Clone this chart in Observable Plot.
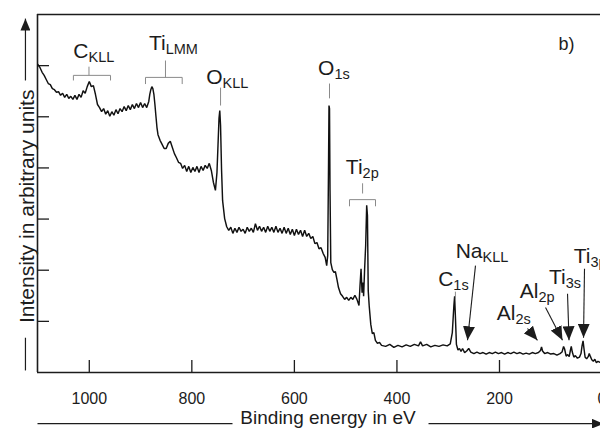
<!DOCTYPE html>
<html><head><meta charset="utf-8">
<script src="https://cdn.jsdelivr.net/npm/d3@7"></script>
<script src="https://cdn.jsdelivr.net/npm/@observablehq/plot@0.6"></script>
<style>html,body{margin:0;padding:0;background:#fff;overflow:hidden}#chart svg{display:block}</style>
</head><body><div id="chart"></div>
<script>
// Binding energy (eV) and intensity (arbitrary units)
const energy = [
1100,1096,1092,1088,1084,1080,1076,1072,1068,1064,1060,1056,1052,1048,1044,1040,1036,1032,1028,1024,
1020,1016,1012,1008,1004,1000,996,992,988,984,980,976,972,968,964,960,956,952,948,944,
940,936,932,928,924,920,916,912,908,904,900,896,892,888,884,882,880,878,876,874,
872,870,868,866,862,858,854,850,846,842,838,834,830,826,822,818,814,810,806,802,
798,794,790,786,782,778,774,770,766,762,758,754,751,749,747,745.5,744,742,740,736,
732,728,724,720,716,712,708,704,700,696,692,688,684,680,676,672,668,664,660,656,
652,648,644,640,636,632,628,624,620,616,612,608,604,600,596,592,588,584,580,576,
572,568,564,560,556,552,548,544,540,537,535,533.5,532.5,531.5,530.5,529,526,523,520,517,
514,510,506,502,498,494,490,486,482,478,474,472,470,468,466,465,463,461,459,457.5,
456,454,451,448,445,442,438,434,430,422,414,406,398,390,382,374,366,358,354,350,
342,334,326,318,310,302,296,292,289,287.5,286,284,281,278,275,272,268,264,260,256,
250,244,238,232,226,220,214,208,202,196,190,184,178,172,166,160,154,148,142,136,
130,124,120,118,116,112,106,100,94,88,82,78,75,73,70,67,64,62,60,58,
55,52,48,44,41,39,37,35,33,30,27,25,23,20,17,14,11,8,5,3
];
const intensity = [
6.02,5.96,5.87,5.81,5.73,5.65,5.63,5.55,5.53,5.48,5.49,5.42,5.46,5.38,5.44,5.36,5.40,5.34,5.42,5.34,
5.44,5.38,5.51,5.46,5.59,5.69,5.59,5.61,5.44,5.24,5.18,5.10,5.16,5.05,5.12,5.01,5.10,5.03,5.14,5.06,
5.16,5.10,5.20,5.12,5.22,5.14,5.24,5.16,5.26,5.18,5.28,5.18,5.26,5.18,5.30,5.44,5.53,5.59,5.55,5.44,
5.24,5.01,4.79,4.65,4.54,4.46,4.38,4.38,4.48,4.52,4.40,4.28,4.20,4.11,4.09,3.99,4.05,3.93,4.03,3.91,
4.01,3.93,4.03,3.91,4.03,3.95,4.05,3.99,4.09,3.95,3.72,3.56,3.91,4.44,4.97,5.12,4.83,3.95,3.36,3.01,
2.85,2.78,2.84,2.72,2.82,2.74,2.84,2.76,2.80,2.72,2.84,2.76,2.82,2.74,2.91,2.78,2.86,2.76,2.84,2.74,
2.86,2.76,2.84,2.74,2.86,2.74,2.82,2.72,2.84,2.72,2.82,2.70,2.80,2.68,2.80,2.70,2.78,2.66,2.78,2.66,
2.72,2.62,2.66,2.52,2.54,2.42,2.44,2.33,2.25,2.09,2.29,3.95,5.22,5.16,3.56,2.15,2.01,1.96,1.97,1.82,
1.66,1.54,1.49,1.43,1.47,1.41,1.47,1.43,1.51,1.43,1.31,1.70,2.03,1.56,1.76,1.49,2.03,2.48,3.27,3.07,
1.60,1.29,0.94,0.76,0.78,0.63,0.57,0.59,0.53,0.51,0.55,0.49,0.53,0.50,0.54,0.51,0.55,0.52,0.60,0.52,
0.55,0.50,0.53,0.51,0.54,0.52,0.56,0.78,1.30,1.49,1.10,0.55,0.44,0.47,0.41,0.47,0.39,0.42,0.47,0.40,
0.37,0.40,0.37,0.39,0.36,0.39,0.37,0.40,0.37,0.39,0.36,0.39,0.37,0.40,0.37,0.39,0.36,0.38,0.36,0.39,
0.37,0.39,0.43,0.50,0.42,0.37,0.39,0.36,0.37,0.34,0.37,0.40,0.51,0.46,0.32,0.35,0.31,0.42,0.51,0.40,
0.30,0.33,0.28,0.30,0.37,0.52,0.62,0.45,0.30,0.27,0.31,0.37,0.32,0.25,0.22,0.26,0.19,0.22,0.20,0.21
];

// Axes
const xTicks = [1000, 800, 600, 400, 200];
const xTickLabels = [1000, 800, 600, 400, 200, 0];
const yTicks = [1, 2, 3, 4, 5, 6];
const xTitle = "Binding energy in eV";
const yTitle = "Intensity in arbitrary units";

// Peak annotations: element, subscript, anchor energy, anchor intensity
const peakMain = ["C", "Ti", "O", "O", "Ti", "C", "Na", "Al", "Al", "Ti", "Ti"];
const peakSub  = ["KLL", "LMM", "KLL", "1s", "2p", "1s", "KLL", "2s", "2p", "3s", "3p"];
const peakE    = [1001.5, 851, 740, 522, 467, 290, 233, 169, 124, 71, 22.5];
const peakI    = [6.14, 6.30, 5.65, 5.81, 3.89, 1.70, 2.23, 1.02, 1.45, 1.74, 2.15];

// Bracket / marker segments (grey)
const brE1 = [1031, 1031, 958.6, 1000.6, 890.4, 890.4, 818.8, 851.4, 744, 531.5, 467, 492.5, 492.5, 441.8, 286];
const brI1 = [5.71, 5.81, 5.81, 5.81, 5.64, 5.77, 5.77, 5.77, 5.57, 5.65, 3.70, 3.25, 3.38, 3.38, 1.58];
const brE2 = [1031, 958.6, 958.6, 1000.6, 890.4, 818.8, 818.8, 851.4, 744, 531.5, 467, 492.5, 441.8, 441.8, 286];
const brI2 = [5.81, 5.81, 5.71, 5.98, 5.77, 5.77, 5.64, 6.10, 5.22, 5.36, 3.50, 3.38, 3.38, 3.25, 1.43];

// Pointer arrows (Na KLL, Al 2s, Al 2p, Ti 3s, Ti 3p)
const arE1 = [246.8, 145.4, 110.2, 67.3, 34.2];
const arI1 = [2.09, 0.86, 1.27, 1.54, 2.03];
const arE2 = [262.4, 125.9, 77.1, 64.4, 36.1];
const arI2 = [0.63, 0.63, 0.63, 0.63, 0.68];

const panelLabel = [{t: "b)", e: 85, v: 6.31}];

const spectrum = energy.map((e, i) => ({e, v: intensity[i]}));
const peaks = peakMain.map((m, i) => ({m, s: peakSub[i], e: peakE[i], v: peakI[i]}));
const brackets = brE1.map((e, i) => ({x1: e, y1: brI1[i], x2: brE2[i], y2: brI2[i]}));
const pointers = arE1.map((e, i) => ({x1: e, y1: arI1[i], x2: arE2[i], y2: arI2[i]}));
const titleLines = [{x1: 1124.5, y1: 0.04, x2: 1124.5, y2: 0.68}, {x1: 1101, y1: -1.0, x2: 720.7, y2: -1.0}];
const titleArrows = [{x1: 1124.5, y1: 5.71, x2: 1124.5, y2: 6.92}, {x1: 338.4, y1: -1.0, x2: -3, y2: -1.0}];

const ink = "#1c1c1c";
const font = "'Liberation Sans', Arial, Helvetica, sans-serif";

function filledHead(len, wid) {
  return (color, context) => {
    const doc = (context && context.document) || document;
    const ns = "http://www.w3.org/2000/svg";
    const m = doc.createElementNS(ns, "marker");
    m.setAttribute("viewBox", `${-len} ${-wid / 2} ${len} ${wid}`);
    m.setAttribute("markerWidth", len);
    m.setAttribute("markerHeight", wid);
    m.setAttribute("markerUnits", "userSpaceOnUse");
    m.setAttribute("orient", "auto");
    m.setAttribute("refX", 0);
    m.setAttribute("refY", 0);
    const p = doc.createElementNS(ns, "path");
    p.setAttribute("d", `M0,0L${-len},${-wid / 2}L${-len},${wid / 2}Z`);
    p.setAttribute("fill", ink);
    p.setAttribute("stroke", "none");
    m.appendChild(p);
    return m;
  };
}

const plot = Plot.plot({
  width: 600,
  height: 428,
  marginLeft: 37,
  marginRight: 0,
  marginTop: 14,
  marginBottom: 56,
  x: {domain: [1101, 3], axis: null},
  y: {domain: [0, 7], axis: null},
  style: {fontFamily: font, color: ink, background: "#fff"},
  marks: [
    Plot.ruleY([0, 7], {stroke: ink, strokeWidth: 1.6}),
    Plot.ruleX([1101], {stroke: ink, strokeWidth: 1.6}),
    Plot.ruleX(xTicks, {y1: 0, y2: 0.235, stroke: ink, strokeWidth: 1.3}),
    Plot.ruleY(yTicks, {x1: 1101, x2: 1077.6, stroke: ink, strokeWidth: 1.3}),
    Plot.text(xTickLabels, {x: d => d, text: d => String(d), frameAnchor: "bottom", lineAnchor: "bottom", dy: 31, fontSize: 16, fill: ink}),
    Plot.line(spectrum, {x: "e", y: "v", stroke: "#111", strokeWidth: 1.45, strokeLinejoin: "miter"}),
    Plot.link(brackets, {x1: "x1", y1: "y1", x2: "x2", y2: "y2", stroke: "#8a8a8a", strokeWidth: 1}),
    Plot.link(pointers, {x1: "x1", y1: "y1", x2: "x2", y2: "y2", stroke: ink, strokeWidth: 1.1, markerEnd: filledHead(14, 12)}),
    Plot.text(peaks, {x: "e", y: "v", text: "m", textAnchor: "end", lineAnchor: "bottom", fontSize: 21, fill: ink}),
    Plot.text(peaks, {x: "e", y: "v", text: "s", textAnchor: "start", lineAnchor: "bottom", dy: 4, fontSize: 14.5, fill: ink}),
    Plot.text(panelLabel, {x: "e", y: "v", text: "t", textAnchor: "start", lineAnchor: "bottom", fontSize: 18, fill: ink}),
    Plot.link(titleLines, {x1: "x1", y1: "y1", x2: "x2", y2: "y2", stroke: ink, strokeWidth: 1.2}),
    Plot.link(titleArrows, {x1: "x1", y1: "y1", x2: "x2", y2: "y2", stroke: ink, strokeWidth: 1.2, markerEnd: filledHead(12, 10)}),
    Plot.text([xTitle], {x: 534.4, y: -0.88, text: d => d, textAnchor: "middle", lineAnchor: "middle", fontSize: 19, fill: ink}),
    Plot.text([yTitle], {x: 1121.3, y: 3.25, text: d => d, rotate: -90, textAnchor: "middle", lineAnchor: "middle", fontSize: 21, fill: ink})
  ]
});
document.getElementById("chart").appendChild(plot);
</script>
</body></html>
